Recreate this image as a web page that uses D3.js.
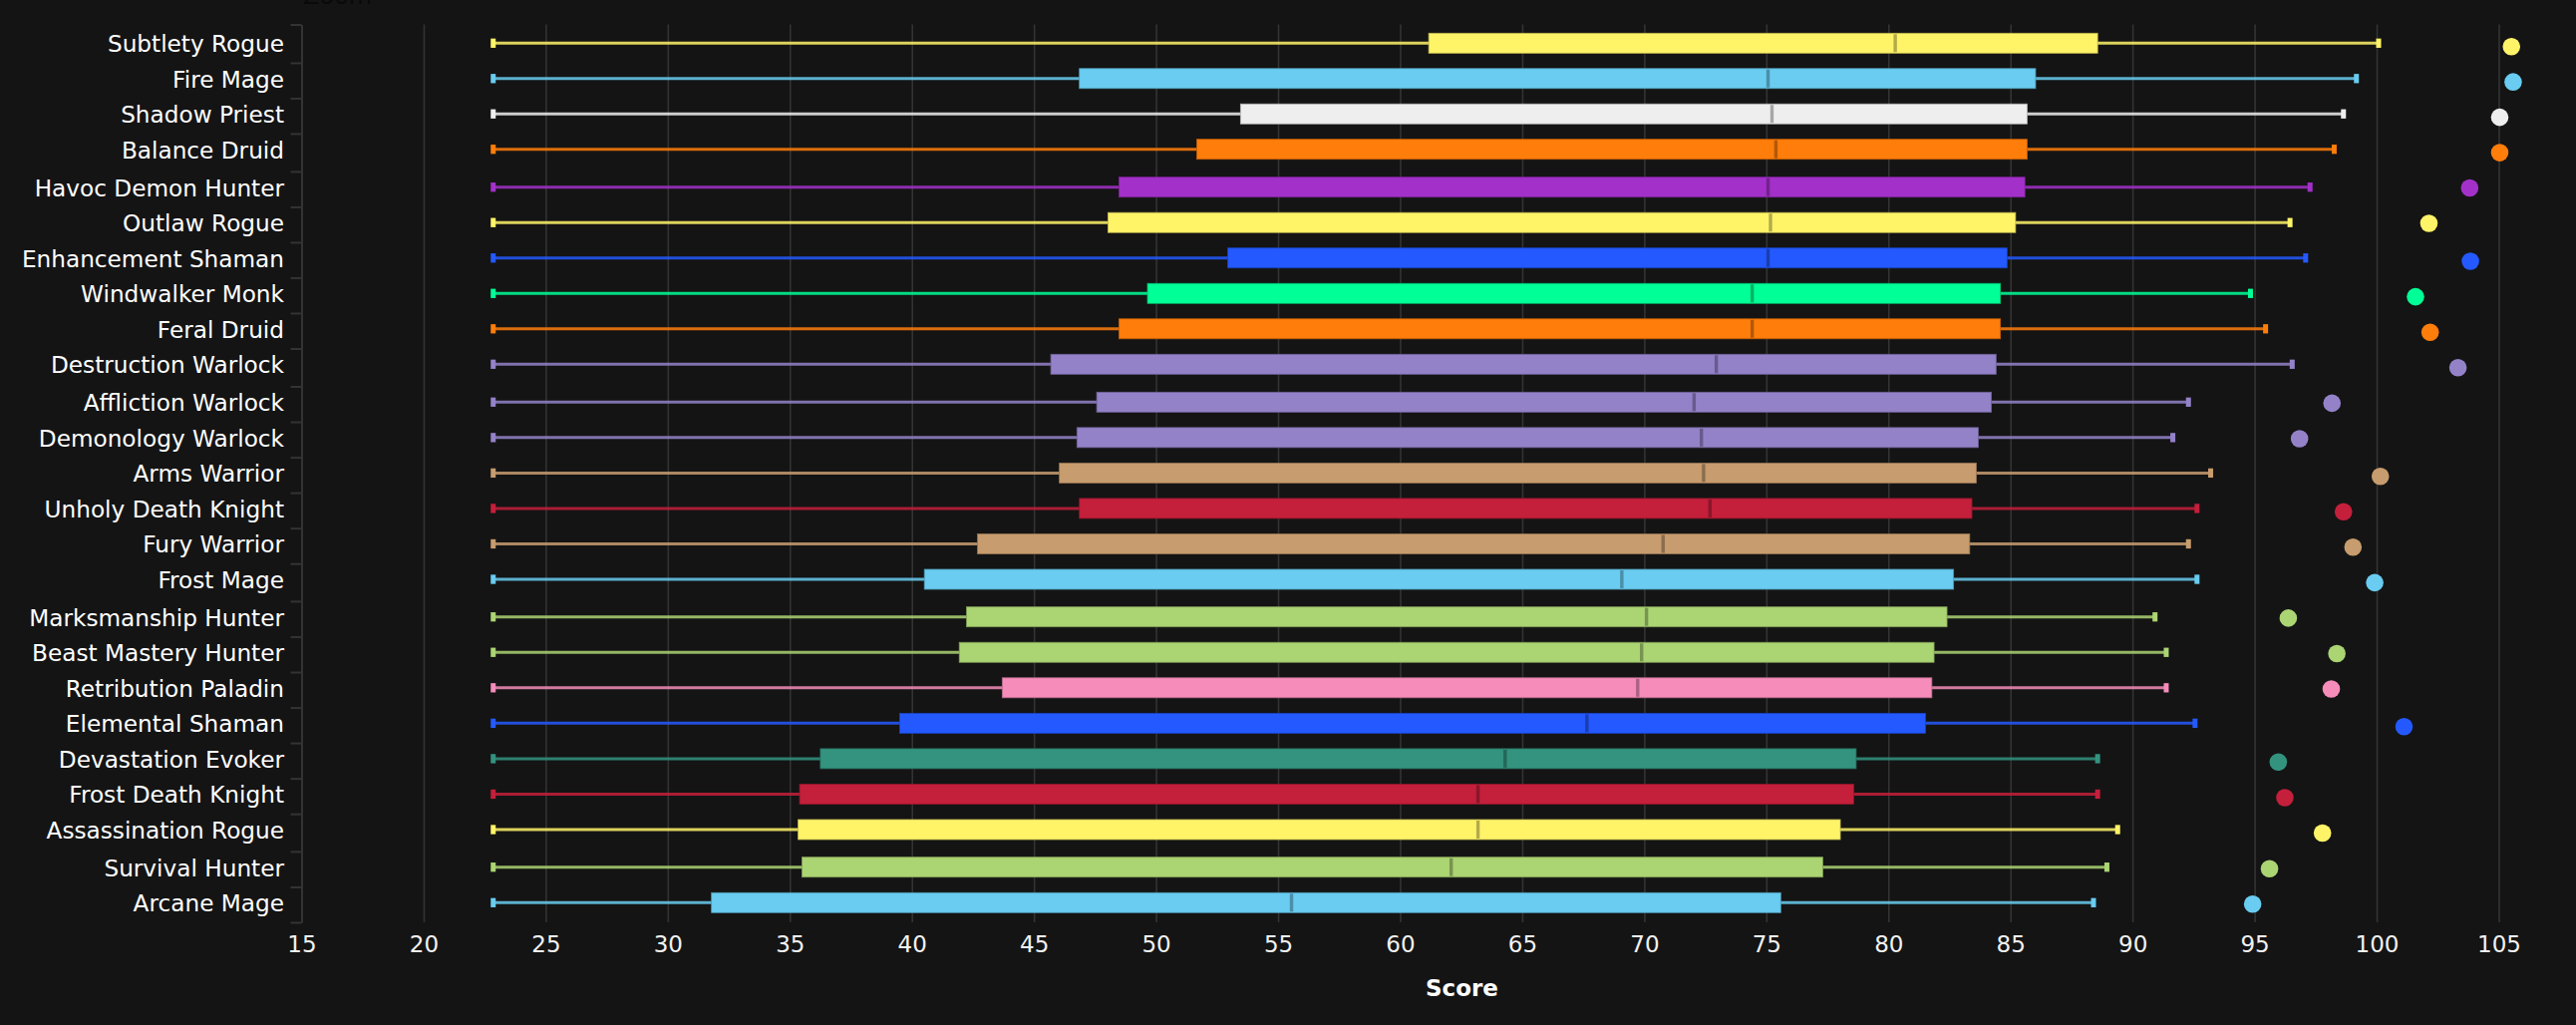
<!DOCTYPE html>
<html>
<head>
<meta charset="utf-8">
<script src="https://cdnjs.cloudflare.com/ajax/libs/d3/7.8.5/d3.min.js"></script>
<style>
  html, body { margin: 0; padding: 0; background: #141414; overflow: hidden; }
  text { font-family: "DejaVu Sans", sans-serif; }
</style>
</head>
<body>
<div id="chart"></div>
<script>
//Chart Data, Top Row First
let specs = ["Subtlety Rogue", "Fire Mage", "Shadow Priest", "Balance Druid", "Havoc Demon Hunter", "Outlaw Rogue", "Enhancement Shaman", "Windwalker Monk", "Feral Druid", "Destruction Warlock", "Affliction Warlock", "Demonology Warlock", "Arms Warrior", "Unholy Death Knight", "Fury Warrior", "Frost Mage", "Marksmanship Hunter", "Beast Mastery Hunter", "Retribution Paladin", "Elemental Shaman", "Devastation Evoker", "Frost Death Knight", "Assassination Rogue", "Survival Hunter", "Arcane Mage"];
let low = [22.85, 22.85, 22.85, 22.85, 22.85, 22.85, 22.85, 22.85, 22.85, 22.85, 22.85, 22.85, 22.85, 22.85, 22.85, 22.85, 22.85, 22.85, 22.85, 22.85, 22.85, 22.85, 22.85, 22.85, 22.85];
let q1 = [61.17, 46.86, 53.46, 51.67, 48.48, 48.03, 52.94, 49.65, 48.48, 45.69, 47.57, 46.76, 46.04, 46.86, 42.69, 40.51, 42.24, 41.94, 43.7, 39.5, 36.25, 35.4, 35.34, 35.5, 31.79];
let median = [80.28, 75.07, 75.23, 75.39, 75.07, 75.17, 75.07, 74.42, 74.42, 72.95, 72.04, 72.34, 72.43, 72.69, 70.77, 69.08, 70.09, 69.89, 69.73, 67.65, 64.3, 63.19, 63.19, 62.09, 55.55];
let q3 = [88.57, 86.03, 85.68, 85.68, 85.59, 85.21, 84.86, 84.59, 84.59, 84.41, 84.22, 83.68, 83.6, 83.42, 83.33, 82.67, 82.4, 81.87, 81.78, 81.52, 78.68, 78.58, 78.03, 77.31, 75.59];
let high = [100.08, 99.17, 98.64, 98.26, 97.27, 96.45, 97.09, 94.83, 95.45, 96.54, 92.29, 91.65, 93.2, 92.64, 92.29, 92.64, 90.92, 91.38, 91.38, 92.56, 88.57, 88.57, 89.39, 88.95, 88.4];
let best = [105.52, 105.59, 105.04, 105.04, 103.81, 102.14, 103.84, 101.59, 102.19, 103.33, 98.17, 96.84, 100.15, 98.64, 99.03, 99.92, 96.38, 98.37, 98.14, 101.12, 95.97, 96.24, 97.78, 95.61, 94.92];
let xTicks = [15, 20, 25, 30, 35, 40, 45, 50, 55, 60, 65, 70, 75, 80, 85, 90, 95, 100, 105];

//Class Colors Per Spec
let specColors = ["#fff468", "#69ccf0", "#eeeeee", "#ff7d0a", "#a330c9", "#fff468", "#2459ff", "#00ff96", "#ff7d0a", "#9482c9", "#9482c9", "#9482c9", "#c79c6e", "#c41f3b", "#c79c6e", "#69ccf0", "#abd473", "#abd473", "#f58cba", "#2459ff", "#33937f", "#c41f3b", "#fff468", "#abd473", "#69ccf0"];

//Set Dimensions of the SVG and Plot Area
let svgWidth = 2584;
let svgHeight = 1028;
let plotLeft = 302.5;
let plotRight = 2506.5;
let plotTop = 24.5;
let plotBottom = 925;

let svg = d3.select("#chart")
  .append("svg")
  .attr("width", svgWidth)
  .attr("height", svgHeight)
  .style("display", "block");

//X Scale for Score
let xScale = d3.scaleLinear()
  .domain([15, 105])
  .range([plotLeft, plotRight]);

//Row Scales, the Rows in the Picture Are Not Evenly Spaced So These Are Piecewise
let rowY = d3.scaleLinear()
  .domain([0, 3, 4, 9, 10, 15, 16, 22, 23, 24])
  .range([43.3, 149.7, 187.7, 365.3, 403.3, 581, 618.7, 832, 869.7, 905.3]);
let dotY = d3.scaleLinear()
  .domain([0, 5, 6, 11, 12, 18, 19, 24])
  .range([46.7, 224, 262, 440, 477.7, 691, 728.7, 906.8]);

let rows = d3.range(specs.length);

//Clipped Title at the Very Top, Dark on Dark
svg.append("text")
  .attr("x", 304)
  .attr("y", 4)
  .attr("font-size", 24)
  .attr("fill", "#0a0a0a")
  .text("Zoom");

//Grid Lines
svg.append("g")
  .attr("transform", `translate(0, ${plotBottom})`)
  .call(d3.axisBottom(xScale).tickValues(xTicks.slice(1)).tickSize(plotTop - plotBottom).tickFormat(""))
  .call(g => g.select(".domain").remove())
  .selectAll("line")
  .attr("stroke", "#333333")
  .attr("stroke-width", 1.6);

//X Axis Labels
svg.append("g")
  .attr("transform", `translate(0, ${plotBottom})`)
  .call(d3.axisBottom(xScale).tickValues(xTicks).tickSize(0).tickPadding(13.5))
  .call(g => g.select(".domain").remove())
  .selectAll("text")
  .attr("font-size", 23)
  .attr("fill", "#f2f2f2");

svg.append("text")
  .attr("x", 1466.5)
  .attr("y", 999)
  .attr("text-anchor", "middle")
  .attr("font-size", 23)
  .attr("font-weight", "bold")
  .attr("fill", "#ffffff")
  .text("Score");

//Y Axis Tick Marks Sit Between Rows
let boundaries = [plotTop].concat(rows.slice(1).map(i => rowY(i) - 15.8), [plotBottom]);
let tickScale = d3.scaleOrdinal(boundaries, boundaries);
svg.append("g")
  .attr("transform", `translate(${plotLeft}, 0)`)
  .call(d3.axisLeft(tickScale).tickSizeInner(11).tickSizeOuter(0).tickFormat(""))
  .call(g => g.selectAll("line, path").attr("stroke", "#333333").attr("stroke-width", 2));

//Y Axis Labels
let labelScale = d3.scaleOrdinal(specs, rows.map(i => rowY(i)));
svg.append("g")
  .attr("transform", `translate(${plotLeft}, 0)`)
  .call(d3.axisLeft(labelScale).tickSize(0).tickPadding(17.5))
  .call(g => g.select(".domain").remove())
  .selectAll("text")
  .attr("font-size", 23.2)
  .attr("dy", "0.36em")
  .attr("fill", "#ffffff");

//Whiskers
svg.append("g").selectAll("line")
  .data(rows)
  .enter()
  .append("line")
  .attr("x1", i => xScale(low[i]))
  .attr("x2", i => xScale(high[i]))
  .attr("y1", i => rowY(i))
  .attr("y2", i => rowY(i))
  .attr("stroke", i => specColors[i])
  .attr("stroke-opacity", 0.85)
  .attr("stroke-width", 3);

//Whisker Caps
let capWidth = 5;
let capHeight = 9.3;
[low, high].forEach(ends => {
  svg.append("g").selectAll("rect")
    .data(rows)
    .enter()
    .append("rect")
    .attr("x", i => xScale(ends[i]) - capWidth / 2)
    .attr("y", i => rowY(i) - capHeight / 2)
    .attr("width", capWidth)
    .attr("height", capHeight)
    .attr("fill", i => specColors[i]);
});

//Quartile Boxes
let boxHeight = 20;
svg.append("g").selectAll("rect")
  .data(rows)
  .enter()
  .append("rect")
  .attr("x", i => xScale(q1[i]))
  .attr("y", i => rowY(i) - boxHeight / 2)
  .attr("width", i => xScale(q3[i]) - xScale(q1[i]))
  .attr("height", boxHeight)
  .attr("fill", i => specColors[i])
  .attr("stroke", i => d3.color(specColors[i]).darker(0.8))
  .attr("stroke-width", 0.8);

//Median Marks
let medianHeight = 18;
svg.append("g").selectAll("rect")
  .data(rows)
  .enter()
  .append("rect")
  .attr("x", i => xScale(median[i]) - 1.7)
  .attr("y", i => rowY(i) - medianHeight / 2)
  .attr("width", 3.4)
  .attr("height", medianHeight)
  .attr("fill", i => d3.color(specColors[i]).darker(1));

//Best Score Dots
svg.append("g").selectAll("circle")
  .data(rows)
  .enter()
  .append("circle")
  .attr("cx", i => xScale(best[i]))
  .attr("cy", i => dotY(i))
  .attr("r", 8.8)
  .attr("fill", i => specColors[i]);
</script>
</body>
</html>
